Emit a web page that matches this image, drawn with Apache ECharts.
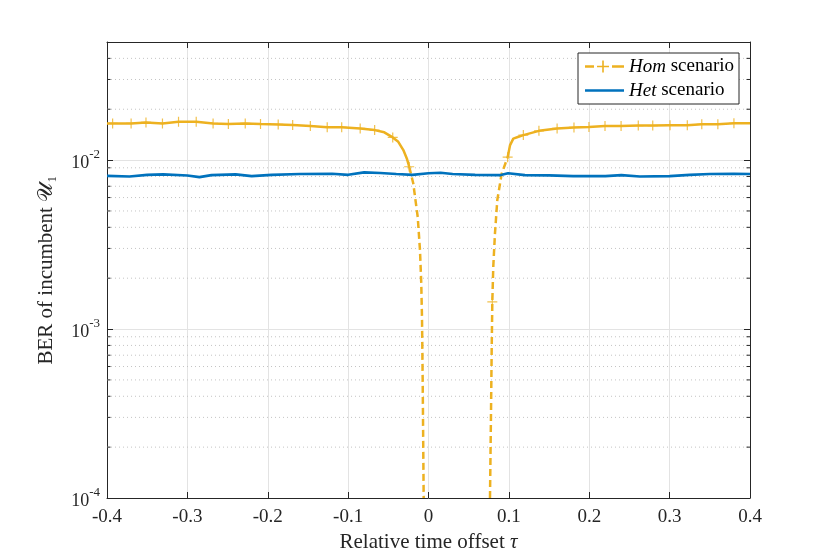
<!DOCTYPE html>
<html lang="en">
<head>
    <meta charset="UTF-8">
    <title>BER vs relative time offset</title>
    <script src="https://cdn.jsdelivr.net/npm/echarts@6/dist/echarts.min.js"></script>
    <style>
        html, body { margin: 0; padding: 0; background: #fff; }
        #main { width: 830px; height: 560px; }
    </style>
</head>
<body>
    <div id="main"></div>
    <script type="text/javascript">
        // Het scenario (blue, solid)
        const hetTau = [-0.40, -0.372, -0.35, -0.33, -0.30, -0.285, -0.27, -0.24, -0.22, -0.195,
            -0.16, -0.12, -0.10, -0.08, -0.06, -0.04, -0.02, 0.0, 0.015, 0.03,
            0.058, 0.09, 0.099, 0.12, 0.15, 0.18, 0.22, 0.24, 0.263, 0.30,
            0.325, 0.35, 0.38, 0.40];
        const hetBer = [8.07e-3, 8.00e-3, 8.18e-3, 8.23e-3, 8.10e-3, 7.93e-3, 8.15e-3, 8.23e-3, 8.04e-3, 8.18e-3,
            8.27e-3, 8.30e-3, 8.18e-3, 8.46e-3, 8.38e-3, 8.27e-3, 8.18e-3, 8.35e-3, 8.42e-3, 8.27e-3,
            8.18e-3, 8.15e-3, 8.35e-3, 8.15e-3, 8.12e-3, 8.04e-3, 8.04e-3, 8.15e-3, 8.00e-3, 8.04e-3,
            8.18e-3, 8.27e-3, 8.30e-3, 8.27e-3];

        // Hom scenario (orange): flat parts drawn solid, the dips dashed
        const homLeftTau = [-0.40, -0.393, -0.370, -0.3515, -0.331, -0.311, -0.289, -0.268, -0.249, -0.228,
            -0.209, -0.187, -0.169, -0.147, -0.126, -0.108, -0.085, -0.067, -0.055, -0.0445,
            -0.0376, -0.0313, -0.027, -0.024];
        const homLeftBer = [0.01649, 0.01649, 0.01649, 0.01671, 0.01649, 0.01685, 0.01685, 0.01649, 0.01633, 0.01649,
            0.01633, 0.01627, 0.01611, 0.0159, 0.01562, 0.01562, 0.0154, 0.01505, 0.0146, 0.01362,
            0.01283, 0.01146, 0.01023, 9.13e-3];
        const homDipLTau = [-0.024, -0.019, -0.0134, -0.0106, -0.009, -0.0081, -0.0072, -0.0065, -0.006];
        const homDipLBer = [9.13e-3, 7.3e-3, 4.6e-3, 2.93e-3, 1.86e-3, 1.18e-3, 4.8e-4, 1.92e-4, 1e-4];
        const homDipRTau = [0.0765, 0.0777, 0.0786, 0.0794, 0.0806, 0.0827, 0.0856, 0.091, 0.0985];
        const homDipRBer = [1e-4, 3.0e-4, 7.5e-4, 1.45e-3, 2.34e-3, 3.68e-3, 5.8e-3, 8.3e-3, 1.04e-2];
        const homRightTau = [0.0985, 0.1015, 0.1055, 0.112, 0.118, 0.1374, 0.160, 0.181, 0.1996, 0.2196,
            0.2396, 0.261, 0.279, 0.3005, 0.322, 0.340, 0.360, 0.380, 0.40];
        const homRightBer = [1.04e-2, 0.01227, 0.0134, 0.01374, 0.01406, 0.0149, 0.0154, 0.0156, 0.0157, 0.0159,
            0.0159, 0.0160, 0.0160, 0.0161, 0.0161, 0.0163, 0.0163, 0.0165, 0.0165];

        // '+' markers of the Hom curve
        const homMarkTau = [-0.393, -0.370, -0.3515, -0.331, -0.311, -0.289, -0.268, -0.249, -0.228, -0.209,
            -0.187, -0.169, -0.147, -0.126, -0.108, -0.085, -0.067, -0.0445, -0.024,
            0.0794, 0.0985, 0.118, 0.1374, 0.160, 0.181, 0.1996, 0.2196, 0.2396, 0.261,
            0.279, 0.3005, 0.322, 0.340, 0.360, 0.380];
        const homMarkBer = [0.01649, 0.01649, 0.01671, 0.01649, 0.01685, 0.01685, 0.01649, 0.01633, 0.01649, 0.01633,
            0.01627, 0.01611, 0.0159, 0.01562, 0.01562, 0.0154, 0.01505, 0.01362, 9.13e-3,
            1.45e-3, 1.04e-2, 0.01406, 0.0149, 0.0154, 0.0156, 0.0157, 0.0159, 0.0159, 0.0160,
            0.0160, 0.0161, 0.0161, 0.0163, 0.0163, 0.0165];

        // minor log ticks (dotted grid)
        const minorTicks = [2e-4, 3e-4, 4e-4, 5e-4, 6e-4, 7e-4, 8e-4, 9e-4,
            2e-3, 3e-3, 4e-3, 5e-3, 6e-3, 7e-3, 8e-3, 9e-3,
            2e-2, 3e-2, 4e-2];

        const xMin = -0.4, xMax = 0.4, yMin = 1e-4, yMax = 0.05;
        const ORANGE = '#EDB120', BLUE = '#0072BD', AXIS = '#262626';
        const SERIF = 'Liberation Serif, Times New Roman, serif';

        const pairs = (xs, ys) => xs.map((x, i) => [x, ys[i]]);
        const plusPath = 'path://M0,4.4h10v1.2h-10z M4.4,0h1.2v10h-1.2z';

        const chart = echarts.init(document.getElementById('main'));

        function expLabel(v) {
            const e = Math.log10(v);
            if (Math.abs(e - Math.round(e)) > 1e-6) return '';
            return '{b|10}{s|' + Math.round(e) + '}';
        }

        const boxAxis = {
            axisLine: { show: true, onZero: false, lineStyle: { color: AXIS, width: 1 } },
            axisTick: { show: true, inside: true, length: 6, lineStyle: { color: AXIS } }
        };

        const option = {
            backgroundColor: '#fff',
            animation: false,
            grid: { left: 107, right: 80, top: 42, bottom: 62 },
            legend: {
                orient: 'vertical',
                right: 91,
                top: 53,
                padding: [4, 5, 4, 7],
                itemGap: 5,
                itemWidth: 39,
                itemHeight: 12,
                backgroundColor: '#fff',
                borderColor: AXIS,
                borderWidth: 1,
                borderRadius: 0,
                data: [
                    { name: 'Hom', icon: 'path://M0,4.8h9v2.4h-9z M12,5.2h12v1.6h-12z M17.2,0h1.6v12h-1.6z M27,4.8h12v2.4h-12z', itemStyle: { color: ORANGE } },
                    { name: 'Het', icon: 'path://M0,0h39v0.1h-39z M0,4.8h39v2.5h-39z M0,11.9h39v0.1h-39z', itemStyle: { color: BLUE } }
                ],
                formatter: name => '{i|' + name + '} scenario',
                textStyle: {
                    fontFamily: SERIF, fontSize: 19, color: '#000', lineHeight: 18,
                    rich: { i: { fontFamily: SERIF, fontSize: 19, fontStyle: 'italic', color: '#000' } }
                }
            },
            xAxis: [Object.assign({
                type: 'value', min: xMin, max: xMax, interval: 0.1,
                name: 'Relative time offset {i|τ}',
                nameLocation: 'middle', nameGap: 31,
                nameTextStyle: {
                    fontFamily: SERIF, fontSize: 21, color: '#262626',
                    rich: { i: { fontFamily: SERIF, fontSize: 21, fontStyle: 'italic', color: '#262626' } }
                },
                axisLabel: { fontFamily: SERIF, fontSize: 19, color: '#262626', margin: 10 },
                splitLine: { show: true, lineStyle: { color: '#e3e3e3', width: 1 } }
            }, boxAxis), Object.assign({
                type: 'value', min: xMin, max: xMax, interval: 0.1, position: 'top',
                axisLabel: { show: false },
                splitLine: { show: false }
            }, boxAxis)],
            yAxis: [Object.assign({
                type: 'log', logBase: 10, min: yMin, max: yMax,
                name: 'BER of incumbent 𝒰₁',
                nameLocation: 'middle', nameGap: 50,
                nameTextStyle: { fontFamily: SERIF, fontSize: 21, color: '#262626' },
                axisLabel: {
                    margin: 7,
                    formatter: expLabel,
                    rich: {
                        b: { fontFamily: SERIF, fontSize: 18, color: '#262626', lineHeight: 24, verticalAlign: 'bottom' },
                        s: { fontFamily: SERIF, fontSize: 13, color: '#262626', lineHeight: 24, verticalAlign: 'top' }
                    }
                },
                splitLine: { show: true, lineStyle: { color: '#e3e3e3', width: 1 } }
            }, boxAxis), Object.assign({
                type: 'log', logBase: 10, min: yMin, max: yMax, position: 'right',
                axisLabel: { show: false },
                splitLine: { show: false }
            }, boxAxis)],
            series: [
                {
                    // minor log grid + minor ticks on both sides
                    type: 'custom',
                    name: 'minor',
                    z: 1,
                    silent: true,
                    data: minorTicks.map(v => [xMin, v]),
                    renderItem: function (params, api) {
                        const cs = params.coordSys;
                        const y = api.coord([api.value(0), api.value(1)])[1];
                        const l = cs.x, r = cs.x + cs.width;
                        return {
                            type: 'group',
                            children: [
                                { type: 'line', shape: { x1: l, y1: y, x2: r, y2: y },
                                  style: { stroke: '#c4c4c4', lineWidth: 1, lineDash: [1, 3] } },
                                { type: 'line', shape: { x1: l, y1: y, x2: l + 3.5, y2: y },
                                  style: { stroke: AXIS, lineWidth: 1 } },
                                { type: 'line', shape: { x1: r - 3.5, y1: y, x2: r, y2: y },
                                  style: { stroke: AXIS, lineWidth: 1 } }
                            ]
                        };
                    }
                },
                {
                    name: 'Het', type: 'line', z: 4,
                    data: pairs(hetTau, hetBer),
                    showSymbol: false, symbol: 'none',
                    lineStyle: { color: BLUE, width: 2.6 },
                    itemStyle: { color: BLUE }
                },
                {
                    name: 'Hom', type: 'line', z: 3,
                    data: pairs(homLeftTau, homLeftBer),
                    symbol: 'none',
                    lineStyle: { color: ORANGE, width: 2.5 },
                    itemStyle: { color: ORANGE }
                },
                {
                    name: 'Hom', type: 'line', z: 3,
                    data: pairs(homRightTau, homRightBer),
                    symbol: 'none',
                    lineStyle: { color: ORANGE, width: 2.5 },
                    itemStyle: { color: ORANGE }
                },
                {
                    name: 'Hom', type: 'line', z: 3,
                    data: pairs(homDipLTau, homDipLBer),
                    symbol: 'none',
                    lineStyle: { color: ORANGE, width: 2.5, type: [7, 4] },
                    itemStyle: { color: ORANGE }
                },
                {
                    name: 'Hom', type: 'line', z: 3,
                    data: pairs(homDipRTau, homDipRBer),
                    symbol: 'none',
                    lineStyle: { color: ORANGE, width: 2.5, type: [7, 4] },
                    itemStyle: { color: ORANGE }
                },
                {
                    name: 'Hom', type: 'scatter', z: 3,
                    data: pairs(homMarkTau, homMarkBer),
                    symbol: plusPath, symbolSize: 10,
                    itemStyle: { color: ORANGE }
                }
            ]
        };
        chart.setOption(option);
    </script>
</body>
</html>
